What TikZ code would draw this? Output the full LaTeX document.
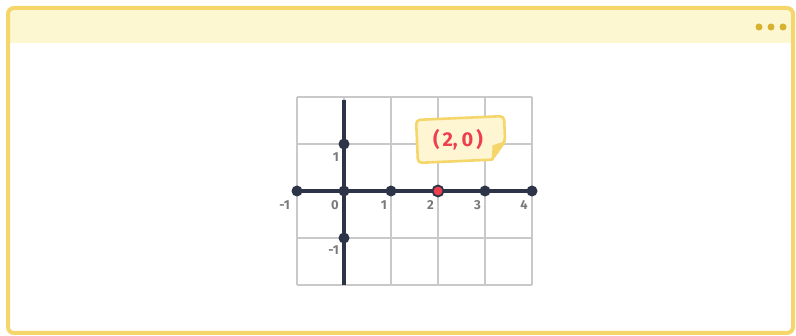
\documentclass[tikz,border=0pt]{standalone}
\usepackage{fontspec}
\setmainfont{Fira Sans}
\definecolor{frameY}{HTML}{F5D66B}
\definecolor{headY}{HTML}{FCF7D1}
\definecolor{dotY}{HTML}{D8B22E}
\definecolor{gridG}{HTML}{C9C9C9}
\definecolor{axisN}{HTML}{2E3448}
\definecolor{labG}{HTML}{7A7A7A}
\definecolor{redP}{HTML}{EE3F4F}
\definecolor{noteY}{HTML}{FEF6D2}
\begin{document}
\begin{tikzpicture}[x=1pt,y=-1pt,
  gridline/.style={draw=gridG,line width=1.6pt},
  axisline/.style={draw=axisN,line width=3.2pt},
  ptdot/.style={circle,fill=axisN,inner sep=0pt,minimum size=11pt},
  lab/.style={text=labG,font=\fontsize{13}{13}\selectfont\bfseries,inner sep=0pt},
  hdot/.style={circle,fill=dotY,inner sep=0pt,minimum size=7pt}]
\useasboundingbox (0,0) rectangle (796,336);
% window
\fill[white,rounded corners=6pt] (8,8) rectangle (793,333);
\begin{scope}
\clip[rounded corners=6pt] (8,8) rectangle (793,333);
\fill[headY] (8,8) rectangle (793,43);
\end{scope}
\draw[frameY,line width=4pt,rounded corners=6pt] (8,8) rectangle (793,333);
\node[hdot] (d1) at (759,27) {};
\node[hdot] (d2) at (771,27) {};
\node[hdot] (d3) at (783,27) {};
% grid
\foreach \i in {297,344,391,438,485,532} \draw[gridline] (\i,97) -- (\i,285);
\foreach \j in {97,144,191,238,285} \draw[gridline] (297,\j) -- (532,\j);
% axes
\coordinate (xl) at (297,191);
\coordinate (xr) at (532,191);
\coordinate (yt) at (344,100);
\coordinate (yb) at (344,285);
\draw[axisline] (xl) -- (xr);
\draw[axisline] (yt) -- (yb);
% points
\node[ptdot] (pm1) at (297,191) {};
\node[ptdot] (p0) at (344,191) {};
\node[ptdot] (p1) at (391,191) {};
\node[ptdot,fill=redP,draw=axisN,line width=1.8pt,minimum size=11pt] (p2) at (438,191) {};
\node[ptdot] (p3) at (485,191) {};
\node[ptdot] (p4) at (532,191) {};
\node[ptdot] (q1) at (344,144) {};
\node[ptdot] (qm1) at (344,238) {};
% labels
\node[lab,anchor=east] (lm1) at (290,205) {-1};
\node[lab,anchor=east] (l0) at (339,205) {0};
\node[lab,anchor=east] (l1) at (387,205) {1};
\node[lab,anchor=east] (l2) at (434,205) {2};
\node[lab,anchor=east] (l3) at (481,205) {3};
\node[lab,anchor=east] (l4) at (528,205) {4};
\node[lab,anchor=east] (ly1) at (339,157) {1};
\node[lab,anchor=east] (lym1) at (339,250) {-1};
% callout
\begin{scope}[shift={(461,140)},rotate=2.5]
\draw[fill=noteY,draw=frameY,line width=2.6pt,line join=round]
  [rounded corners=4pt] (-44,-22) -- (44,-22) -- (44,3) [sharp corners] -- (30,21) [rounded corners=4pt] -- (-44,21) -- cycle;
\fill[frameY] (44,3) .. controls (38,5) and (33,6) .. (31,7) .. controls (31,12) and (30,17) .. (30,21) -- cycle;
\draw[frameY,line width=2pt,line join=round] (44,3) -- (30,21);
\node[text=redP,font=\fontsize{20}{20}\selectfont\bfseries] (note) at (-3,0) {(\kern3pt 2,\kern4pt 0\kern3pt)};
\end{scope}
\end{tikzpicture}
\end{document}
